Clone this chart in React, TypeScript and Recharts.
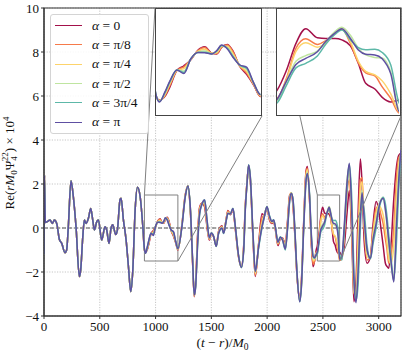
import React from 'react'
import { LineChart, Line, XAxis, YAxis, CartesianGrid, ReferenceLine, ReferenceArea, Legend } from 'recharts'

const serif = '"Liberation Serif", "DejaVu Serif", serif'

const seriesKeys = ['a0', 'a1', 'a2', 'a3', 'a4', 'a5']
const alphaText = ['0', 'π/8', 'π/4', 'π/2', '3π/4', 'π']
const seriesColors = ['#a3114a', '#f67a4a', '#fdd36b', '#bfe5a0', '#5db8a8', '#5e4fa2']

const xTicks = [0, 500, 1000, 1500, 2000, 2500, 3000]
const yTicks = [-4, -2, 0, 2, 4, 6, 8, 10]

// before t~900 all six waveforms sit on top of each other
const earlyT = [0, 4, 12, 30, 54, 75, 93, 114, 138, 159, 188, 203, 218, 242, 263, 287, 317, 329, 347, 362,
  377, 398, 419, 437, 452, 473, 488, 517, 547, 562, 583, 601, 616, 643, 658, 682, 691, 712, 736, 757,
  778, 796, 817, 838, 862, 886]
const earlyV = [-1.2, 2.4, 0.25, 0.29, 0.36, 0.21, 0.36, 0.21, -0.52, -0.7, -1.12, -1.0, 0.06, 2.15, 1.42, 0.06, -2.21, -1.9, -0.45, 0.36,
  0.21, 0.44, 0.89, 0.36, -0.09, 0.29, 0.36, -0.55, 0.06, -0.09, -0.7, 0.0, 0.15, -0.3, -0.09, 1.3, 1.35, 0.36, -0.55, -1.76,
  -2.89, -1.91, 0.82, 1.85, 1.42, 0.06]

const lateT = [
  900, 910, 925, 940, 960, 980, 1000, 1020, 1040, 1060, 1075, 1088, 1105, 1120, 1140, 1160, 1180, 1200,
  1236, 1266, 1290, 1311, 1332, 1347, 1359, 1377, 1395, 1416,
  1440, 1461, 1482, 1500, 1520, 1544, 1565, 1595, 1610, 1634,
  1649, 1670, 1694, 1715, 1745, 1769, 1790, 1804, 1820, 1834,
  1849, 1873, 1894, 1924, 1954, 1975, 1998, 2022, 2043, 2058,
  2073, 2097, 2118, 2139, 2163, 2184, 2202, 2217, 2232, 2247,
  2268, 2292, 2307, 2328, 2349, 2361, 2379, 2397, 2412, 2425,
  2440,
  2450, 2465, 2481, 2497, 2516, 2530, 2545, 2556, 2570, 2583, 2595, 2610, 2622, 2636, 2650,
  2670, 2690, 2715, 2737, 2760, 2778, 2797, 2815, 2836, 2851, 2870, 2896, 2926, 2950, 2977,
  3000, 3020, 3040, 3060, 3075, 3090, 3110, 3135, 3160, 3180, 3200,
]

const late0 = [
  -1.0, -1.1, -1.0, -0.72, -0.25, -0.12, 0.05, 0.32, 0.42, 0.24, 0.22, 0.4, 0.49, 0.32, -0.13, -0.36, -0.66, -1.0,
  0.15, 1.5, 1.9, 0.85, -1.6, -3.12, -2.5, -0.3, 0.95, 1.12,
  0.95, 0.05, -0.55, -0.25, -0.4, -0.78, -0.15, 0.1, -0.2, 0.45,
  0.8, 0.6, 0.82, -0.05, -1.35, -1.75, -0.8, 1.0, 2.1, 2.8,
  2.2, -0.45, -2.2, -0.7, 0.65, 0.55, 0.9, 0.35, 0.2, 0.28,
  -0.05, -0.8, -0.5, -0.45, -0.75, 0.4, 1.5, 1.55, 1.0, -0.2,
  -2.2, -3.2, -2.4, 0.3, 2.6, 2.79, 1.4, -0.8, -1.76, -1.5,
  -1.0,
  -0.82, -0.27, 0.52, 0.94, 0.68, 0.66, 0.66, 0.62, 0.45, -0.05, -0.62, -0.78, -1.02, -1.15, -1.1,
  -1.25, -0.9, 0.6, 1.7, -0.6, -3.35, -2.4, 0.6, 3.14, 2.0, -0.6, -1.6, -1.3, 0.2, 1.2,
  0.8, 0.0, -0.8, -1.6, -1.75, -1.83, -0.8, 1.3, 2.8, 3.3, 3.4,
]
const late1 = [
  -0.99, -1.1, -0.98, -0.68, -0.25, -0.15, 0.06, 0.31, 0.4, 0.24, 0.23, 0.41, 0.47, 0.3, -0.12, -0.33, -0.65, -0.99,
  0.13, 1.48, 1.92, 0.88, -1.57, -3.1, -2.55, -0.38, 0.9, 1.12,
  1.02, 0.12, -0.52, -0.25, -0.4, -0.8, -0.18, 0.07, -0.21, 0.42,
  0.77, 0.62, 0.84, -0.02, -1.34, -1.77, -0.85, 0.95, 2.08, 2.82,
  2.25, -0.4, -2.15, -0.75, 0.45, 0.6, 0.92, 0.4, 0.23, 0.3,
  -0.02, -0.75, -0.48, -0.48, -0.8, 0.32, 1.45, 1.6, 1.1, -0.12,
  -2.15, -3.25, -2.5, 0.22, 2.5, 2.72, 1.45, -0.7, -1.65, -1.5,
  -1.1,
  -1.05, -0.5, 0.38, 0.65, 0.49, 0.6, 0.8, 0.92, 0.52, -0.04, -0.32, -0.41, -0.72, -1.05, -1.47,
  -1.4, -0.5, 1.5, 2.2, -0.2, -3.0, -2.9, -0.3, 2.2, 2.3, 0.0, -1.45, -1.3, -0.1, 0.9,
  1.0, 0.6, 0.2, -0.5, -1.0, -1.6, -1.3, 0.0, 2.3, 3.2, 3.3,
]
const late2 = [
  -0.97, -1.12, -0.95, -0.63, -0.25, -0.2, 0.07, 0.29, 0.35, 0.23, 0.26, 0.43, 0.44, 0.24, -0.11, -0.28, -0.63, -0.97,
  0.1, 1.46, 1.92, 0.92, -1.52, -3.08, -2.6, -0.5, 0.8, 1.1,
  1.15, 0.22, -0.5, -0.24, -0.39, -0.82, -0.2, 0.04, -0.22, 0.4,
  0.72, 0.63, 0.86, 0.02, -1.32, -1.78, -0.9, 0.9, 2.05, 2.84,
  2.28, -0.32, -2.08, -0.8, 0.25, 0.58, 0.95, 0.45, 0.26, 0.33,
  0.02, -0.7, -0.45, -0.5, -0.85, 0.22, 1.38, 1.6, 1.18, -0.04,
  -2.1, -3.3, -2.58, 0.15, 2.4, 2.65, 1.5, -0.6, -1.5, -1.45,
  -1.15,
  -1.1, -0.55, 0.29, 0.54, 0.41, 0.53, 0.8, 0.95, 0.57, 0.01, -0.28, -0.38, -0.55, -0.92, -1.43,
  -1.4, -0.35, 1.9, 2.5, 0.0, -2.9, -3.1, -0.7, 1.8, 2.1, 0.2, -1.3, -1.35, -0.2, 0.7,
  1.05, 0.9, 0.6, -0.1, -0.7, -1.4, -1.6, -0.8, 1.6, 2.9, 3.4,
]
const late3 = [
  -0.96, -1.13, -0.92, -0.59, -0.24, -0.27, 0.07, 0.27, 0.3, 0.23, 0.29, 0.45, 0.4, 0.19, -0.1, -0.22, -0.61, -0.95,
  0.08, 1.44, 1.91, 0.95, -1.48, -3.06, -2.64, -0.62, 0.72, 1.1,
  1.22, 0.3, -0.47, -0.23, -0.38, -0.83, -0.22, 0.02, -0.23, 0.38,
  0.69, 0.64, 0.88, 0.04, -1.31, -1.79, -0.95, 0.86, 2.04, 2.85,
  2.31, -0.28, -2.02, -0.83, 0.12, 0.55, 0.96, 0.5, 0.28, 0.35,
  0.04, -0.67, -0.43, -0.53, -0.9, 0.12, 1.3, 1.6, 1.24, 0.02,
  -2.08, -3.33, -2.63, 0.1, 2.26, 2.55, 1.55, -0.5, -1.38, -1.4,
  -1.15,
  -1.12, -0.59, 0.01, 0.17, 0.3, 0.58, 0.86, 0.98, 0.75, 0.38, 0.19, 0.12, 0.1, -0.3, -1.36,
  -1.35, -0.1, 2.1, 2.85, 0.4, -2.5, -3.3, -1.6, 0.9, 1.7, 0.3, -1.1, -1.4, -0.45, 0.35,
  1.0, 1.3, 1.4, 0.8, 0.1, -0.8, -1.7, -2.2, 0.6, 2.5, 3.5,
]
const late4 = [
  -0.95, -1.14, -0.9, -0.57, -0.24, -0.31, 0.08, 0.26, 0.27, 0.22, 0.31, 0.46, 0.38, 0.16, -0.1, -0.19, -0.6, -0.94,
  0.03, 1.4, 1.91, 1.0, -1.42, -3.02, -2.7, -0.8, 0.6, 1.06,
  1.28, 0.42, -0.42, -0.22, -0.37, -0.84, -0.26, -0.02, -0.25, 0.34,
  0.65, 0.65, 0.9, 0.1, -1.28, -1.8, -1.05, 0.75, 2.0, 2.87,
  2.38, -0.18, -1.95, -0.9, 0.0, 0.5, 0.98, 0.56, 0.31, 0.37,
  0.08, -0.62, -0.4, -0.57, -1.0, 0.0, 1.2, 1.56, 1.32, 0.12,
  -2.0, -3.35, -2.72, -0.05, 2.1, 2.45, 1.65, -0.3, -1.25, -1.38,
  -1.25,
  -1.18, -0.69, -0.18, -0.05, 0.16, 0.5, 0.78, 0.9, 0.62, 0.4, 0.34, 0.35, 0.26, -0.1, -1.19,
  -1.45, -0.3, 1.7, 2.9, 1.2, -1.9, -3.3, -2.6, 0.0, 1.3, 0.8, -0.8, -1.4, -0.7, 0.0,
  0.8, 1.2, 1.4, 1.1, 0.5, -0.3, -1.3, -2.4, -0.6, 1.8, 3.5,
]
const late5 = [
  -0.94, -1.15, -0.88, -0.55, -0.24, -0.34, 0.08, 0.26, 0.25, 0.22, 0.32, 0.47, 0.36, 0.14, -0.09, -0.16, -0.6, -0.94,
  0.06, 1.42, 1.91, 0.97, -1.45, -3.05, -2.67, -0.7, 0.67, 1.09,
  1.27, 0.36, -0.45, -0.23, -0.38, -0.83, -0.24, 0.0, -0.24, 0.36,
  0.67, 0.64, 0.89, 0.06, -1.3, -1.79, -1.0, 0.82, 2.03, 2.86,
  2.33, -0.24, -1.98, -0.85, 0.06, 0.52, 0.97, 0.52, 0.29, 0.36,
  0.06, -0.65, -0.42, -0.55, -0.95, 0.06, 1.27, 1.58, 1.27, 0.06,
  -2.06, -3.35, -2.67, 0.06, 2.18, 2.48, 1.58, -0.42, -1.3, -1.35,
  -1.2,
  -1.08, -0.57, -0.08, 0.09, 0.28, 0.58, 0.82, 0.94, 0.66, 0.33, 0.21, 0.19, 0.08, -0.35, -1.43,
  -1.3, 0.0, 2.0, 2.94, 0.5, -2.4, -3.4, -2.0, 0.6, 1.6, 0.4, -1.0, -1.38, -0.5, 0.2,
  0.9, 1.25, 1.35, 0.85, 0.2, -0.6, -1.5, -2.45, 0.2, 2.2, 3.55,
]
const lateSeries = [late0, late1, late2, late3, late4, late5]

// zoom windows and where their insets sit (data coords of main axes)
const insets = [
  { tMin: 900, tMax: 1200, x0: 995, x1: 1955 },
  { tMin: 2450, tMax: 2650, x0: 2080, x1: 3200 },
]
const insetYBottom = 5.1
const zoomY = 1.5

const rows: any[] = [
  ...earlyT.map((t, i) => {
    const r: any = { t }
    seriesKeys.forEach((k) => (r[k] = earlyV[i]))
    return r
  }),
  ...lateT.map((t, i) => {
    const r: any = { t }
    seriesKeys.forEach((k, j) => (r[k] = lateSeries[j][i]))
    return r
  }),
]

// main plot box in px (yaxis width 44, margins below)
const W = 403
const H = 356
const PL = 44
const PT = 8
const PW = 357
const PH = 308
const toPx = (t: number) => PL + (t / 3200) * PW
const toPy = (v: number) => PT + ((10 - v) / 14) * PH

const fmt = (v: number) => (v < 0 ? `\u2212${-v}` : `${v}`)

function XLabel(props: any) {
  const vb = props.viewBox || {}
  return (
    <text x={vb.x + vb.width / 2} y={vb.y + 31} textAnchor="middle" fontFamily={serif} fontSize={13.5} fill="#111">
      (<tspan fontStyle="italic">t</tspan> − <tspan fontStyle="italic">r</tspan>)/<tspan fontStyle="italic">M</tspan>
      <tspan fontSize={9.5} dy={3}>0</tspan>
    </text>
  )
}

function YLabel() {
  const cx = 14
  const cy = 163
  return (
    <text x={cx} y={cy} transform={`rotate(-90 ${cx} ${cy})`} textAnchor="middle" fontFamily={serif} fontSize={13} fill="#111">
      Re(<tspan fontStyle="italic">rM</tspan>
      <tspan fontSize={9} dy={3}>0</tspan>
      <tspan dy={-3}>Ψ</tspan>
      <tspan fontSize={9} dy={3}>4</tspan>
      <tspan fontSize={9} dx={-5} dy={-9}>22</tspan>
      <tspan dy={6}>) × 10</tspan>
      <tspan fontSize={9} dy={-5}>4</tspan>
    </text>
  )
}

function renderLegend(props: any) {
  const items = props.payload || []
  return (
    <div
      style={{
        background: 'rgba(255,255,255,0.85)',
        border: '1px solid #d4d4d4',
        borderRadius: 3,
        padding: '1px 4px 1px 4px',
        width: 89,
        boxSizing: 'content-box',
      }}
    >
      {items.map((p: any) => {
        const idx = seriesKeys.indexOf(p.dataKey)
        return (
          <div key={p.dataKey} style={{ display: 'flex', alignItems: 'center', height: 19.3 }}>
            <div style={{ width: 27, borderTop: `1.6px solid ${seriesColors[idx]}`, marginRight: 10 }} />
            <span style={{ fontFamily: serif, fontSize: 13.5, color: '#111', whiteSpace: 'nowrap' }}>
              <i>α</i> = {alphaText[idx]}
            </span>
          </div>
        )
      })}
    </div>
  )
}

function Inset({ tMin, tMax, x0, x1 }: { tMin: number; tMax: number; x0: number; x1: number }) {
  const left = toPx(x0)
  const top = toPy(10)
  const w = toPx(x1) - left
  const h = toPy(insetYBottom) - top
  const data = rows.filter((r) => r.t >= tMin - 40 && r.t <= tMax + 40)
  return (
    <div
      style={{
        position: 'absolute',
        left,
        top,
        width: w,
        height: h,
        background: '#fff',
        border: '1.3px solid #444',
        boxSizing: 'border-box',
      }}
    >
      <LineChart width={w - 2.6} height={h - 2.6} data={data} margin={{ top: 0, right: 0, bottom: 0, left: 0 }}>
        <XAxis dataKey="t" type="number" domain={[tMin, tMax]} hide allowDataOverflow />
        <YAxis type="number" domain={[-zoomY, zoomY]} hide allowDataOverflow />
        {seriesKeys.map((k, i) => (
          <Line
            key={k}
            dataKey={k}
            type="monotone"
            stroke={seriesColors[i]}
            strokeWidth={1.5}
            dot={false}
            isAnimationActive={false}
          />
        ))}
      </LineChart>
    </div>
  )
}

export default function App() {
  return (
    <div style={{ position: 'absolute', left: 0, top: 0, width: W, height: H, background: '#fff', fontFamily: serif }}>
      <LineChart width={W} height={H} data={rows} margin={{ top: PT, right: W - PL - PW, bottom: 0, left: 0 }}>
        <CartesianGrid stroke="#b8b8b8" strokeDasharray="1.2 1.4" strokeWidth={0.8} />
        <XAxis
          dataKey="t"
          type="number"
          domain={[0, 3200]}
          ticks={xTicks}
          height={H - PT - PH}
          allowDataOverflow
          stroke="#333"
          tickSize={3}
          tickMargin={3}
          tick={{ fontSize: 13, fill: '#111', fontFamily: serif }}
          label={<XLabel />}
        />
        <YAxis
          type="number"
          domain={[-4, 10]}
          ticks={yTicks}
          width={PL}
          allowDataOverflow
          stroke="#333"
          tickSize={3}
          tickMargin={2}
          tickFormatter={fmt}
          tick={{ fontSize: 13, fill: '#111', fontFamily: serif }}
          label={<YLabel />}
        />
        <ReferenceLine y={0} stroke="#555" strokeDasharray="4 2" strokeWidth={1} />
        {seriesKeys.map((k, i) => (
          <Line
            key={k}
            dataKey={k}
            name={k}
            type="monotone"
            stroke={seriesColors[i]}
            strokeWidth={1.5}
            dot={false}
            isAnimationActive={false}
          />
        ))}
        {insets.map((z, i) => (
          <ReferenceArea
            key={'r' + i}
            x1={z.tMin}
            x2={z.tMax}
            y1={-zoomY}
            y2={zoomY}
            fill="none"
            fillOpacity={0}
            stroke="#808080"
            strokeWidth={1}
          />
        ))}
        {insets.map((z, i) => (
          <ReferenceLine
            key={'c1' + i}
            segment={[{ x: z.tMin, y: zoomY }, { x: z.x0, y: 10 }]}
            stroke="#808080"
            strokeWidth={1}
            ifOverflow="visible"
          />
        ))}
        {insets.map((z, i) => (
          <ReferenceLine
            key={'c2' + i}
            segment={[{ x: z.tMax, y: -zoomY }, { x: z.x1, y: insetYBottom }]}
            stroke="#808080"
            strokeWidth={1}
            ifOverflow="visible"
          />
        ))}
        <ReferenceArea x1={0} x2={3200} y1={-4} y2={10} fill="none" fillOpacity={0} stroke="#333" strokeWidth={1.2} />
        <Legend
          layout="vertical"
          align="center"
          verticalAlign="middle"
          content={renderLegend}
          wrapperStyle={{ position: 'absolute', left: 50, top: 14, width: 'auto', height: 'auto' }}
        />
      </LineChart>
      {insets.map((z, i) => (
        <Inset key={i} {...z} />
      ))}
    </div>
  )
}
